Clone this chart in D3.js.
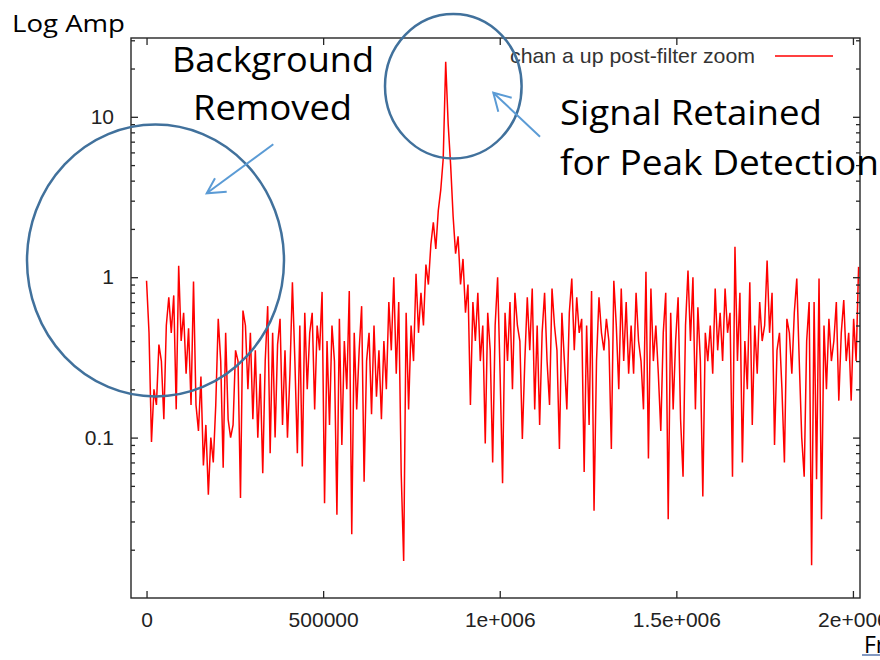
<!DOCTYPE html>
<html>
<head>
<meta charset="utf-8">
<script src="https://cdn.jsdelivr.net/npm/d3@7"></script>
<style>
  html, body { margin: 0; padding: 0; background: #fff; }
  svg { display: block; }
</style>
</head>
<body>
<svg id="chart" width="880" height="660"></svg>
<script>
// ---------- data ----------
const seriesName = "chan a up post-filter zoom";
const binWidth = 7000; // Hz per sample
const amplitude = [
  0.95, 0.45, 0.094, 0.2, 0.16, 0.38, 0.3, 0.13, 0.5, 0.75,
  0.45, 0.77, 0.15, 1.18, 0.4, 0.6, 0.25, 0.48, 0.16, 0.94,
  0.16, 0.11, 0.24, 0.067, 0.12, 0.044, 0.1, 0.07, 0.16, 0.55,
  0.3, 0.065, 0.45, 0.13, 0.1, 0.12, 0.35, 0.3, 0.042, 0.62,
  0.5, 0.2, 0.45, 0.13, 0.35, 0.1, 0.25, 0.06, 0.3, 0.66,
  0.08, 0.45, 0.1, 0.38, 0.55, 0.12, 0.35, 0.1, 0.25, 0.93,
  0.3, 0.08, 0.5, 0.066, 0.6, 0.2, 0.45, 0.6, 0.15, 0.5,
  0.35, 0.81, 0.039, 0.4, 0.12, 0.5, 0.3, 0.033, 0.55, 0.09,
  0.4, 0.2, 0.82, 0.025, 0.45, 0.15, 0.35, 0.66, 0.053, 0.3,
  0.45, 0.14, 0.5, 0.18, 0.35, 0.13, 0.4, 0.2, 0.7, 0.35,
  1.0, 0.25, 0.7, 0.06, 0.017, 0.6, 0.15, 0.5, 0.3, 1.05,
  0.45, 0.8, 0.5, 1.2, 0.9, 1.6, 2.2, 1.5, 2.6, 3.5,
  5.5, 22, 9, 5, 2.4, 1.4, 1.8, 0.9, 1.3, 0.6,
  0.9, 0.16, 0.7, 0.4, 0.8, 0.3, 0.5, 0.092, 0.6, 0.35,
  0.07, 0.5, 1.0, 0.25, 0.052, 0.6, 0.3, 0.7, 0.2, 0.8,
  0.5, 0.4, 0.098, 0.3, 0.75, 0.35, 0.85, 0.15, 0.5, 0.12,
  0.45, 0.8, 0.3, 0.16, 0.85, 0.5, 0.35, 0.085, 0.6, 0.3,
  0.15, 0.6, 0.98, 0.35, 0.75, 0.45, 0.55, 0.061, 0.5, 0.12,
  0.82, 0.035, 0.3, 0.75, 0.45, 0.35, 0.55, 0.4, 0.085, 0.95,
  0.5, 0.2, 0.85, 0.3, 0.7, 0.25, 0.5, 0.25, 0.8, 0.4,
  0.3, 0.15, 1.08, 0.074, 0.85, 0.3, 0.5, 0.25, 0.11, 0.45,
  0.8, 0.031, 0.6, 0.15, 0.4, 0.75, 0.13, 0.057, 0.5, 1.1,
  0.4, 1.0, 0.15, 0.65, 0.3, 0.043, 0.45, 0.3, 0.5, 0.25,
  0.85, 0.35, 0.6, 0.3, 0.85, 0.45, 0.6, 0.057, 1.55, 0.3,
  0.8, 0.07, 0.4, 0.2, 0.93, 0.12, 0.5, 0.25, 0.7, 0.4,
  0.5, 1.27, 0.45, 0.8, 0.09, 0.35, 0.45, 0.2, 0.07, 0.55,
  0.45, 0.25, 0.6, 0.98, 0.3, 0.1, 0.057, 0.4, 0.7, 0.016,
  0.7, 0.055, 0.98, 0.031, 0.5, 0.2, 0.55, 0.3, 0.4, 0.7,
  0.17, 0.45, 0.72, 0.3, 0.45, 0.17, 0.55, 0.3, 1.16
];
const xTicks = [0, 500000, 1000000, 1500000, 2000000];
const xTickLabels = ["0", "500000", "1e+006", "1.5e+006", "2e+006"];
const yTicks = [0.1, 1, 10];
const yTickLabels = ["0.1", "1", "10"];
const yLabel = "Log Amp";
const xLabel = "Freq";
const notes = {
  left: ["Background", "Removed"],
  right: ["Signal Retained", "for Peak Detection"]
};

// ---------- layout ----------
const svg = d3.select("#chart");
const L = 131, R = 860, T = 38, B = 598;
const x = d3.scaleLinear().domain([-44000, 2020000]).range([L, R]);
const y = d3.scaleLog().domain([0.01, 31]).range([B, T]);
const axisColor = "#262626";
const tickFont = "'Liberation Sans', Arial, sans-serif";

const data = amplitude.map((v, i) => ({ f: i * binWidth, a: v }));

// clip
svg.append("defs").append("clipPath").attr("id", "plotclip")
  .append("rect").attr("x", L).attr("y", T).attr("width", R - L).attr("height", B - T);

// series line
const line = d3.line().x(d => x(d.f)).y(d => y(d.a));
svg.append("path")
  .datum(data)
  .attr("clip-path", "url(#plotclip)")
  .attr("fill", "none")
  .attr("stroke", "#ff0000")
  .attr("stroke-width", 1.5)
  .attr("d", line);

// frame
svg.append("rect").attr("x", L).attr("y", T).attr("width", R - L).attr("height", B - T)
  .attr("fill", "none").attr("stroke", axisColor).attr("stroke-width", 1.4);

// x ticks (bottom and top, inward)
const xAxisB = d3.axisBottom(x).tickValues(xTicks).tickSize(-7).tickPadding(14)
  .tickFormat((d, i) => xTickLabels[i]);
const gxb = svg.append("g").attr("transform", `translate(0,${B})`).call(xAxisB);
const xAxisT = d3.axisTop(x).tickValues(xTicks).tickSize(-7).tickFormat("");
const gxt = svg.append("g").attr("transform", `translate(0,${T})`).call(xAxisT);

// y ticks: majors + minors
const yMinor = [];
[0.01, 0.1, 1, 10].forEach(dec => {
  for (let k = 2; k <= 9; k++) { const v = dec * k; if (v <= 31) yMinor.push(v); }
});
const yAxisL = d3.axisLeft(y).tickValues(yTicks).tickSize(-7).tickPadding(17)
  .tickFormat((d, i) => yTickLabels[i]);
const gyl = svg.append("g").attr("transform", `translate(${L},0)`).call(yAxisL);
const gylm = svg.append("g").attr("transform", `translate(${L},0)`)
  .call(d3.axisLeft(y).tickValues(yMinor).tickSize(-4).tickFormat(""));
const gyr = svg.append("g").attr("transform", `translate(${R},0)`)
  .call(d3.axisRight(y).tickValues(yTicks).tickSize(-7).tickFormat(""));
const gyrm = svg.append("g").attr("transform", `translate(${R},0)`)
  .call(d3.axisRight(y).tickValues(yMinor).tickSize(-4).tickFormat(""));

[gxb, gxt, gyl, gylm, gyr, gyrm].forEach(g => {
  g.select(".domain").remove();
  g.selectAll(".tick line").attr("stroke", axisColor).attr("stroke-width", 1.3);
  g.selectAll("text").attr("fill", "#222")
    .style("font-family", tickFont).style("font-size", "21px");
});
gxb.selectAll("text").attr("dy", "0.71em");

// legend
const legY = 56;
svg.append("text").attr("x", 510).attr("y", legY + 7)
  .attr("textLength", 245).attr("lengthAdjust", "spacingAndGlyphs")
  .attr("fill", "#333").style("font-family", tickFont).style("font-size", "21px")
  .text(seriesName);
svg.append("line").attr("x1", 775).attr("x2", 833).attr("y1", legY).attr("y2", legY)
  .attr("stroke", "#ff0000").attr("stroke-width", 1.3);

// axis labels (slide text)
const noteFont = "'Open Sans', 'Noto Sans', sans-serif";
svg.append("text").attr("x", 12).attr("y", 32).attr("textLength", 113)
  .attr("lengthAdjust", "spacingAndGlyphs")
  .attr("fill", "#000").style("font-family", noteFont).style("font-size", "24px")
  .text(yLabel);
svg.append("text").attr("x", 864).attr("y", 653)
  .attr("fill", "#000").style("font-family", noteFont).style("font-size", "23px")
  .text(xLabel);
svg.append("line").attr("x1", 862).attr("x2", 880).attr("y1", 655).attr("y2", 655)
  .attr("stroke", "#2f5597").attr("stroke-width", 1.2);

// annotations
const annoFont = { family: noteFont, size: "35px" };
const addNote = (txt, xs, xe, yb) => svg.append("text")
  .attr("x", xs).attr("y", yb).attr("textLength", xe - xs).attr("lengthAdjust", "spacingAndGlyphs")
  .attr("fill", "#000").style("font-family", annoFont.family).style("font-size", annoFont.size)
  .text(txt);
addNote(notes.left[0], 172, 374, 72);
addNote(notes.left[1], 193, 352, 120);
addNote(notes.right[0], 560, 822, 125);
addNote(notes.right[1], 560, 879, 175);

// circles
const circleColor = "#41719c";
svg.append("ellipse").attr("cx", 155.5).attr("cy", 260.5).attr("rx", 128.5).attr("ry", 136)
  .attr("fill", "none").attr("stroke", circleColor).attr("stroke-width", 2.5);
svg.append("ellipse").attr("cx", 453.3).attr("cy", 86.2).attr("rx", 68.3).attr("ry", 72.2)
  .attr("fill", "none").attr("stroke", circleColor).attr("stroke-width", 2.5);

// arrows
const arrowColor = "#5b9bd5";
const arrow = (x1, y1, x2, y2, w1, w2) => {
  svg.append("line").attr("x1", x1).attr("y1", y1).attr("x2", x2).attr("y2", y2)
    .attr("stroke", arrowColor).attr("stroke-width", 2);
  svg.append("polyline").attr("points", `${w1[0]},${w1[1]} ${x2},${y2} ${w2[0]},${w2[1]}`)
    .attr("fill", "none").attr("stroke", arrowColor).attr("stroke-width", 2);
};
arrow(273.3, 144.3, 206.7, 193.3, [215, 178.3], [226.7, 191.7]);
arrow(540, 136.7, 493.3, 92.7, [511.7, 97.7], [498.3, 111.7]);
</script>
</body>
</html>
